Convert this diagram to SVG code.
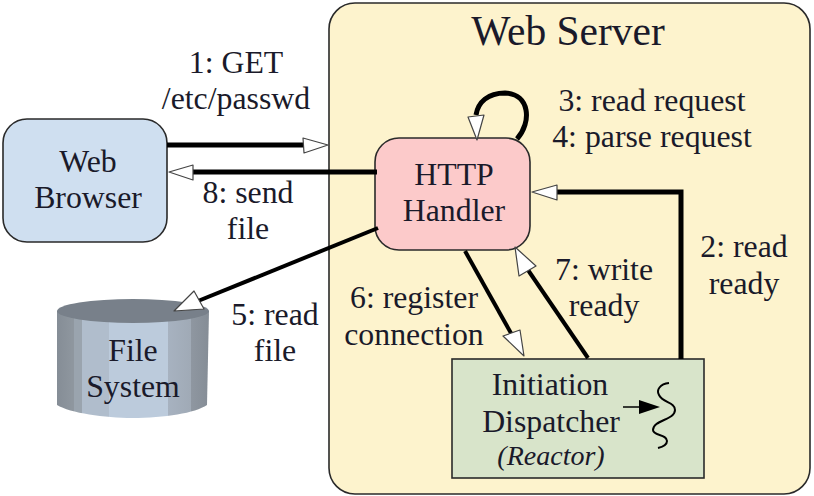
<svg xmlns="http://www.w3.org/2000/svg" width="814" height="496" viewBox="0 0 814 496">
<style>
text{font-family:"Liberation Serif","Times New Roman",serif;font-size:31.8px;fill:#1a1a2a;text-anchor:middle}
.box{stroke:#2a2a2a;stroke-width:1.6}
.c{fill:none;stroke:#000;stroke-width:5}
.t{fill:none;stroke:#000;stroke-width:4}
.h{fill:#fff;stroke:#444;stroke-width:1.2;stroke-linejoin:round}
</style>
<defs>
<linearGradient id="cyl" x1="0" x2="1" y1="0" y2="0">
<stop offset="0" stop-color="#858d96"/><stop offset=".11" stop-color="#8f979f"/><stop offset=".11" stop-color="#9aa4ae"/><stop offset=".165" stop-color="#9aa4ae"/><stop offset=".165" stop-color="#b0bdcc"/><stop offset=".34" stop-color="#b0bdcc"/><stop offset=".34" stop-color="#bccbdc"/><stop offset=".73" stop-color="#bccbdc"/><stop offset=".73" stop-color="#a7b2c0"/><stop offset=".88" stop-color="#a0aab6"/><stop offset=".88" stop-color="#8f97a1"/><stop offset="1" stop-color="#858d96"/>
</linearGradient>
</defs>
<g id="web-server"><rect class="box" x="329" y="3" width="481" height="491" rx="26" fill="#fdf3cd"/><text x="568" y="45" style="font-size:41.5px">Web Server</text></g>
<g id="web-browser"><rect class="box" x="3" y="119" width="164" height="123" rx="24" fill="#cfdff0"/><text x="88" y="172">Web</text><text x="88" y="208">Browser</text></g>
<g id="file-system"><path d="M57 311V405C70 413 105 418 132 418C165 418 195 413 207 405L209 311Z" fill="url(#cyl)"/><ellipse cx="133" cy="311" rx="76" ry="12" fill="#78808a"/><text x="133" y="361">File</text><text x="133" y="397">System</text></g>
<g id="http-handler"><rect class="box" x="375" y="138" width="155" height="112" rx="24" fill="#fccaca"/><text x="454" y="185">HTTP</text><text x="454" y="221">Handler</text></g>
<g id="initiation-dispatcher"><rect class="box" x="452" y="359" width="252" height="119" fill="#d8e4ca"/><text x="550" y="395">Initiation</text><text x="551" y="432">Dispatcher</text><text x="551" y="465" style="font-size:28px;font-style:italic">(Reactor)</text>
<path d="M623 407H645" stroke="#000" stroke-width="1.5"/><path d="M639 400L660 407L639 414Z" fill="#000"/>
<path d="M669 383C660 384 656 390 659 395C663 403 675 402 675 410C675 420 653 420 653 430C653 436 667 434 667 441C667 445 662 447 658 448" fill="none" stroke="#000" stroke-width="2"/></g>
<g id="connectors">
<path class="c" d="M167 145H303"/><path class="h" d="M303 138L328 145L304 153Z"/>
<path class="c" d="M377 172H193"/><path class="h" d="M193 165L169 172L193 180Z"/>
<path class="t" d="M378 228L198 301"/><path class="h" d="M194 291L174 311L204 309Z"/>
<path class="c" d="M517 139C532 122 530 94 505 93C488 93 478 102 476 115"/><path class="h" d="M468 117L484 115L477 140Z"/>
<path class="c" d="M681 359V192H557"/><path class="h" d="M557 185L532 192L557 200Z"/>
<path class="t" d="M465 251L512 335"/><path class="h" d="M503 336L520 330L524 356Z"/>
<path class="t" d="M588 358L528 270"/><path class="h" d="M536 266L519 276L515 247Z"/>
</g>
<g id="labels">
<text x="236" y="73">1: GET</text><text x="236" y="109">/etc/passwd</text>
<text x="652" y="111">3: read request</text><text x="652" y="147">4: parse request</text>
<text x="248" y="203">8: send</text><text x="248" y="239">file</text>
<text x="744" y="257">2: read</text><text x="744" y="294">ready</text>
<text x="604" y="280">7: write</text><text x="604" y="316">ready</text>
<text x="414" y="308">6: register</text><text x="414" y="345">connection</text>
<text x="275" y="325">5: read</text><text x="275" y="361">file</text>
</g>
</svg>
